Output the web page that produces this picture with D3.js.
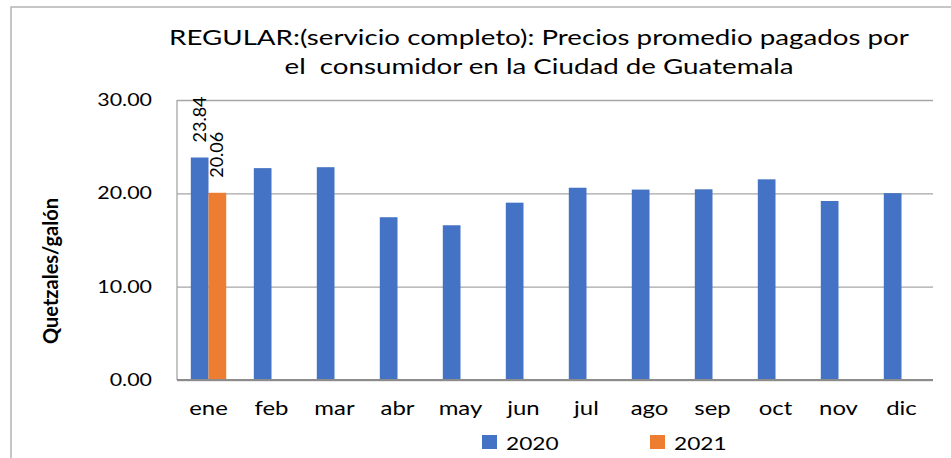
<!DOCTYPE html>
<html>
<head>
<meta charset="utf-8">
<script src="https://cdn.jsdelivr.net/npm/d3@7"></script>
<style>
  body { margin: 0; background: #fff; }
  svg { display: block; }
</style>
</head>
<body>
<svg id="chart" width="951" height="458"></svg>
<script>
// Monthly average regular gasoline prices (full service), Guatemala City
const months = ["ene", "feb", "mar", "abr", "may", "jun", "jul", "ago", "sep", "oct", "nov", "dic"];
const seriesNames = ["2020", "2021"];
const values2020 = [23.84, 22.70, 22.80, 17.44, 16.58, 19.00, 20.60, 20.40, 20.43, 21.50, 19.18, 20.02];
const values2021 = [20.06, null, null, null, null, null, null, null, null, null, null, null];
const labelled = [{ series: "2020", month: "ene", value: 23.84 }, { series: "2021", month: "ene", value: 20.06 }];
const yTicks = [0, 10, 20, 30];
const seriesColors = ["#4472C4", "#ED7D31"];

const FONT = "Lato, 'Open Sans', sans-serif";
const SX = 1.26; // horizontal text stretch

const svg = d3.select("#chart");
const W = 951, H = 458;
const plot = { left: 177, right: 933, top: 100, bottom: 380 };

// outer frame
svg.append("rect")
  .attr("x", 11).attr("y", 7)
  .attr("width", W + 20).attr("height", H + 20)
  .attr("fill", "#fff").attr("stroke", "#b4b4b4").attr("stroke-width", 1.5);

const x0 = d3.scaleBand().domain(months).range([plot.left, plot.right])
  .paddingInner(0.438).paddingOuter(0.219);
const x1 = d3.scaleBand().domain(seriesNames).range([0, x0.bandwidth()]);
const y = d3.scaleLinear().domain([0, 30]).range([plot.bottom, plot.top]);
const color = d3.scaleOrdinal().domain(seriesNames).range(seriesColors);

function stretchedText(g, x, yPos, str, opts = {}) {
  return g.append("text")
    .attr("transform", `translate(${x},${yPos}) scale(${SX},1)`)
    .attr("text-anchor", opts.anchor || "middle")
    .attr("font-family", FONT)
    .attr("font-size", opts.size || 17)
    .attr("font-weight", opts.weight || "normal")
    .attr("fill", opts.fill || "#000")
    .text(str);
}

// gridlines + y axis line
const yAxis = d3.axisLeft(y).tickValues(yTicks).tickSize(-(plot.right - plot.left)).tickFormat("");
const ya = svg.append("g").attr("transform", `translate(${plot.left},0)`).call(yAxis);
ya.selectAll(".tick line").attr("stroke", "#a6a6a6").attr("stroke-width", 1.3);
ya.select(".domain").attr("stroke", "#a6a6a6").attr("stroke-width", 1.3).attr("d", `M0,${plot.top}V${plot.bottom}`);

// y tick labels
const yLab = svg.append("g");
yTicks.forEach(t => {
  stretchedText(yLab, plot.left - 25, y(t) + 6, d3.format(".2f")(t), { anchor: "end", size: 17 });
});

// bars
const rows = months.map((m, i) => ({ month: m, "2020": values2020[i], "2021": values2021[i] }));
const groups = svg.append("g").selectAll("g").data(rows).join("g")
  .attr("transform", d => `translate(${x0(d.month)},0)`);
groups.selectAll("rect")
  .data(d => seriesNames.filter(s => d[s] != null).map(s => ({ key: s, value: d[s] })))
  .join("rect")
  .attr("x", d => x1(d.key))
  .attr("y", d => y(d.value))
  .attr("width", x1.bandwidth())
  .attr("height", d => y(0) - y(d.value))
  .attr("fill", d => color(d.key));

// zero line on top of bars
svg.append("line")
  .attr("x1", plot.left).attr("x2", plot.right)
  .attr("y1", y(0)).attr("y2", y(0))
  .attr("stroke", "#8c8c8c").attr("stroke-width", 2);

// rotated value labels
svg.append("g").selectAll("text").data(labelled).join("text")
  .attr("transform", d => {
    const cx = x0(d.month) + x1(d.series) + x1.bandwidth() / 2 + 6;
    return `translate(${cx},${y(d.value) - 15}) rotate(-90)`;
  })
  .attr("text-anchor", "start")
  .attr("font-family", FONT)
  .attr("font-size", 18)
  .attr("fill", "#000")
  .text(d => d3.format(".2f")(d.value));

// month labels
const xLab = svg.append("g");
months.forEach(m => {
  stretchedText(xLab, x0(m) + x0.bandwidth() / 2, 415, m, { size: 19 });
});

// title
const title = svg.append("g");
stretchedText(title, 539, 45, "REGULAR:(servicio completo): Precios promedio pagados por", { size: 22 });
stretchedText(title, 539, 74, "el  consumidor en la Ciudad de Guatemala", { size: 22 }).style("white-space", "pre");

// y axis title
svg.append("text")
  .attr("transform", `translate(58,271) rotate(-90)`)
  .attr("text-anchor", "middle")
  .attr("font-family", FONT)
  .attr("font-size", 20)
  .attr("font-weight", "bold")
  .attr("fill", "#000")
  .text("Quetzales/galón");

// legend
const legend = svg.append("g");
const legendX = [482, 650];
seriesNames.forEach((s, i) => {
  legend.append("rect")
    .attr("x", legendX[i]).attr("y", 435)
    .attr("width", 15).attr("height", 14)
    .attr("fill", color(s));
  stretchedText(legend, legendX[i] + 24, 450, s, { anchor: "start", size: 18 });
});
</script>
</body>
</html>
